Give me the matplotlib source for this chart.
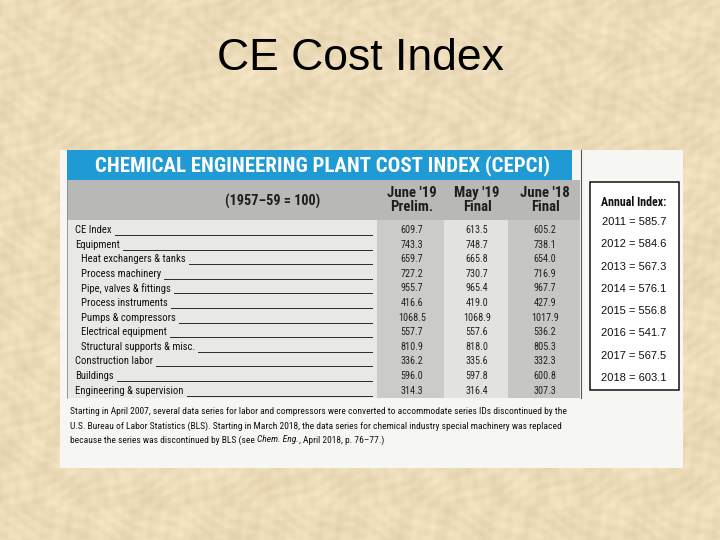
import numpy as np
import matplotlib
matplotlib.use('Agg')
import matplotlib.pyplot as plt
from matplotlib import font_manager
from matplotlib.patches import Rectangle

# === Content ===
title = 'CE Cost Index'
banner = 'CHEMICAL ENGINEERING PLANT COST INDEX (CEPCI)'
base_note = '(1957–59 = 100)'
col_heads = [("June '19", 'Prelim.'), ("May '19", 'Final'), ("June '18", 'Final')]
components = ['CE Index', 'Equipment', 'Heat exchangers & tanks', 'Process machinery',
              'Pipe, valves & fittings', 'Process instruments', 'Pumps & compressors',
              'Electrical equipment', 'Structural supports & misc.', 'Construction labor',
              'Buildings', 'Engineering & supervision']
indent = [0, 0, 1, 1, 1, 1, 1, 1, 1, 0, 0, 0]
june19 = [609.7, 743.3, 659.7, 727.2, 955.7, 416.6, 1068.5, 557.7, 810.9, 336.2, 596.0, 314.3]
may19 = [613.5, 748.7, 665.8, 730.7, 965.4, 419.0, 1068.9, 557.6, 818.0, 335.6, 597.8, 316.4]
june18 = [605.2, 738.1, 654.0, 716.9, 967.7, 427.9, 1017.9, 536.2, 805.3, 332.3, 600.8, 307.3]
annual_years = [2011, 2012, 2013, 2014, 2015, 2016, 2017, 2018]
annual_index = [585.7, 584.6, 567.3, 576.1, 556.8, 541.7, 567.5, 603.1]
note_lines = [
    'Starting in April 2007, several data series for labor and compressors were converted to accommodate series IDs discontinued by the',
    'U.S. Bureau of Labor Statistics (BLS). Starting in March 2018, the data series for chemical industry special machinery was replaced',
]
note_last = ['because the series was discontinued by BLS (see ', 'Chem. Eng.', ', April 2018, p. 76–77.)']


def pick_font(names, default='Liberation Sans'):
    for n in names:
        try:
            font_manager.findfont(font_manager.FontProperties(family=n),
                                  fallback_to_default=False)
            return n
        except Exception:
            pass
    return default


NARROW = pick_font(['Roboto Condensed', 'Liberation Sans Narrow', 'DejaVu Sans Condensed'])
SANS = 'Liberation Sans'
INK = '#111111'

fig = plt.figure(figsize=(7.2, 5.4), dpi=100)
ax = fig.add_axes([0, 0, 1, 1])
ax.set_xlim(0, 720)
ax.set_ylim(540, 0)
ax.axis('off')
fig.canvas.draw()
renderer = fig.canvas.get_renderer()


def width(t):
    return t.get_window_extent(renderer).width


def fit(t, target):
    t.set_fontsize(t.get_fontsize() * target / width(t))
    return t.get_fontsize()


# === Parchment background — mottled, fine grain ===
yy, xx = np.mgrid[0:540, 0:720].astype(float)
tex = (np.sin(xx * 0.23 + 2.5 * np.sin(yy * 0.09)) * np.sin(yy * 0.27 + 2.0 * np.cos(xx * 0.07))
       + 0.7 * np.sin(xx * 0.061 - yy * 0.047 + np.sin(xx * 0.013) * 4)
       * np.cos(xx * 0.038 + yy * 0.083)
       + 0.4 * np.sin(xx * 0.41 + yy * 0.37) * np.sin(xx * 0.29 - yy * 0.33))
base = np.array([0.930, 0.862, 0.725])
img = np.clip(base[None, None, :] + 0.022 * tex[:, :, None] * np.array([1.0, 1.05, 1.2]), 0, 1)
ax.imshow(img, extent=(0, 720, 540, 0), aspect='auto', zorder=0, interpolation='bilinear')

ax.text(360, 59, title, fontsize=32, family=SANS, ha='center', va='center', color='black')

# === Scanned table panel ===
ax.add_patch(Rectangle((60, 150), 623, 318, facecolor='#F6F6F3', edgecolor='none', zorder=1))
ax.add_patch(Rectangle((67, 150), 505, 30, facecolor='#1F9AD5', edgecolor='none', zorder=2))
ax.add_patch(Rectangle((67, 180), 513, 40, facecolor='#B8B8B6', edgecolor='none', zorder=2))
ax.add_patch(Rectangle((67, 220), 310, 178, facecolor='#E8E8E6', edgecolor='none', zorder=2))
col_x = [412, 477, 545]
col_edges = [377, 444, 508, 580]
col_faces = ['#CBCBC9', '#E2E2E0', '#C6C6C4']
for i, fc in enumerate(col_faces):
    ax.add_patch(Rectangle((col_edges[i], 220), col_edges[i + 1] - col_edges[i], 178,
                           facecolor=fc, edgecolor='none', zorder=2))
ax.plot([580.5, 580.5], [150, 398], color='#555555', lw=0.8, zorder=3)
ax.plot([67, 67], [180, 398], color='#8A8A8A', lw=0.6, zorder=3)

t = ax.text(95, 166, banner, fontsize=14, family=NARROW, weight='bold', color='white',
            ha='left', va='center', zorder=4)
fit(t, 455)

ax.text(273, 201, base_note, fontsize=10.2, family=NARROW, weight='bold', ha='center',
        va='center', color='#1E1E1E', zorder=4)
for cx, (h1, h2) in zip(col_x, col_heads):
    ax.text(cx, 193, h1, fontsize=10.6, family=NARROW, weight='bold', ha='center',
            va='center', color='#1E1E1E', zorder=4)
    ax.text(cx, 207, h2, fontsize=10.6, family=NARROW, weight='bold', ha='center',
            va='center', color='#1E1E1E', zorder=4)

# rows
row_y = 230.0
row_step = 14.6
for i, name in enumerate(components):
    y = row_y + i * row_step
    lx = 75 + 6 * indent[i]
    lt = ax.text(lx, y, name, fontsize=7.7, family=NARROW, ha='left', va='center',
                 color=INK, zorder=4)
    lw_ = width(lt)
    ax.plot([lx + lw_ + 3, 372], [y + 5, y + 5], color='#2A2A2A', lw=0.7, zorder=3)
    for cx, vals in zip(col_x, [june19, may19, june18]):
        ax.text(cx, y, f'{vals[i]:.1f}', fontsize=7.3, family=NARROW, ha='center',
                va='center', color='#222222', zorder=4)

# annual index box
ax.add_patch(Rectangle((590, 182), 89, 208, facecolor='white', edgecolor='#111111',
                       lw=1.1, zorder=3))
ax.text(634, 203, 'Annual Index:', fontsize=8.6, family=NARROW, weight='bold',
        ha='center', va='center', color=INK, zorder=4)
for j, (yr, v) in enumerate(zip(annual_years, annual_index)):
    ax.text(634, 222 + j * 22.3, f'{yr} = {v:.1f}', fontsize=8, family=SANS,
            ha='center', va='center', color=INK, zorder=4)

# footnote
t = ax.text(70, 412, note_lines[0], fontsize=7, family=NARROW, ha='left', va='center',
            color=INK, zorder=4)
fs = fit(t, 496)
ax.text(70, 426, note_lines[1], fontsize=fs, family=NARROW, ha='left', va='center',
        color=INK, zorder=4)
x = 70
for k, seg in enumerate(note_last):
    st = ax.text(x, 440, seg, fontsize=fs, family=NARROW, ha='left', va='center',
                 style='italic' if k == 1 else 'normal', color=INK, zorder=4)
    x += width(st)

fig.savefig('out.png', dpi=100)
